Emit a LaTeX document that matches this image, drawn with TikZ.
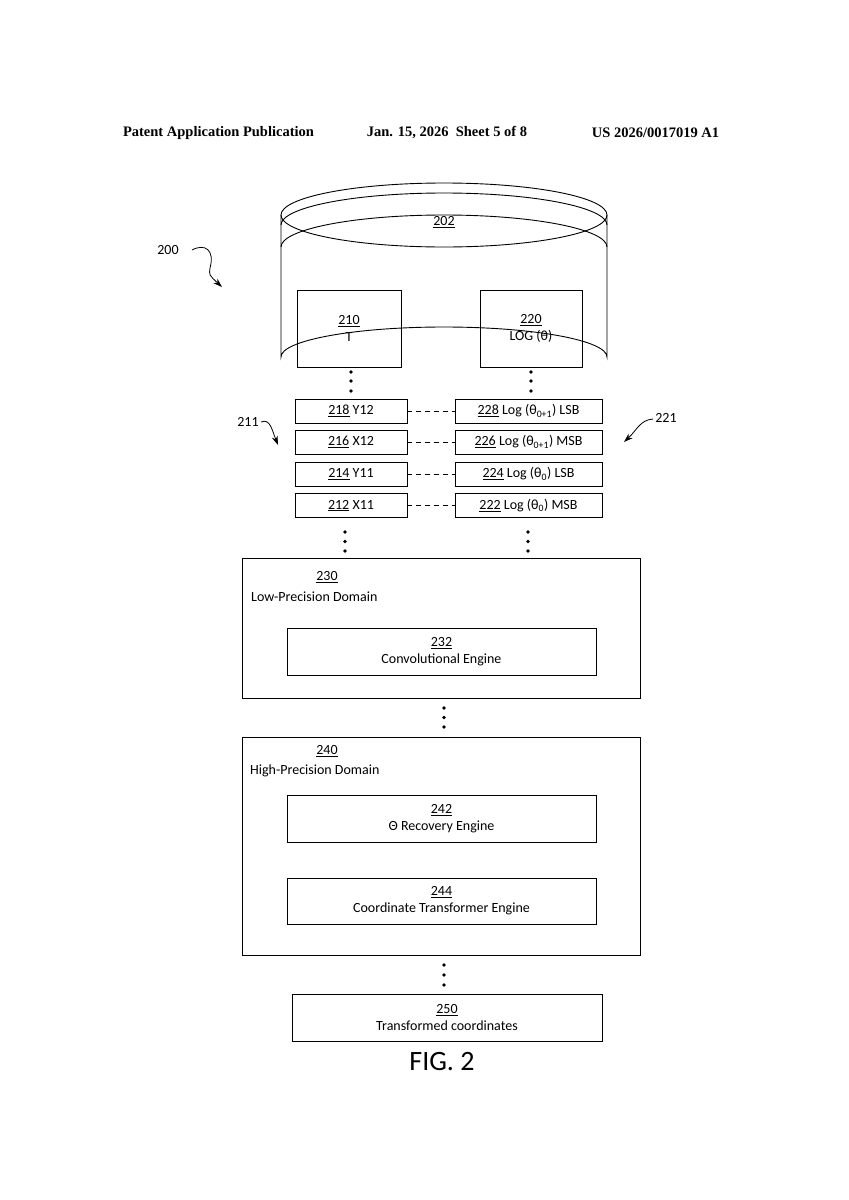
\documentclass[tikz,border=0pt]{standalone}
\usepackage{fontspec}
\setmainfont{Carlito}
\newfontfamily\hdr{Liberation Serif}
\usetikzlibrary{arrows.meta}
\begin{document}
\begin{tikzpicture}[x=1pt,y=-1pt,
  box/.style={draw,line width=0.9pt,rectangle,inner sep=0pt,align=center,font=\fontsize{14}{17}\selectfont},
  txt/.style={inner sep=0pt,font=\fontsize{14}{17}\selectfont,align=center},
  hd/.style={inner sep=0pt,font=\hdr\bfseries\fontsize{14.5}{17}\selectfont},
  dot/.style={circle,fill,inner sep=0pt,minimum size=3.6pt},
  lead/.style={line width=0.8pt,-{Stealth[length=9pt,width=6pt]}}]
\useasboundingbox (0,0) rectangle (849,1200);
% header
\node[hd] (h1) at (218.5,133) {Patent Application Publication};
\node[hd] (h2) at (447,133) {Jan. 15, 2026\ \ Sheet 5 of 8};
\node[hd] (h3) at (655.5,133) {US 2026/0017019 A1};
% cylinder
\draw[line width=0.9pt] (444,215) ellipse[x radius=163,y radius=32];
\draw[line width=0.9pt] (281,225) arc[start angle=180,end angle=360,x radius=163,y radius=32];
\draw[line width=0.9pt] (281,247) arc[start angle=180,end angle=360,x radius=163,y radius=32];
\draw[line width=0.9pt] (281,215) -- (281,357) arc[start angle=180,end angle=360,x radius=163,y radius=30] -- (607,215);
\node[txt] (n202) at (444,222) {\underline{202}};
\node[box,minimum width=104pt,minimum height=77pt] (b210) at (349,328.5) {\underline{210}\\T};
\node[box,minimum width=102pt,minimum height=77pt] (b220) at (531,328.5) {\underline{220}\\LOG (θ)};
% rows
\foreach \n/\y/\t in {218/411/Y12,216/442/X12,214/474/Y11,212/505.5/X11}{
  \node[box,minimum width=112pt,minimum height=24pt] (l\n) at (351,\y) {\underline{\n} \t};}
\node[box,minimum width=147pt,minimum height=24pt] (r228) at (528.5,411) {\underline{228} Log (θ\textsubscript{0+1}) LSB};
\node[box,minimum width=147pt,minimum height=24pt] (r226) at (528.5,442) {\underline{226} Log (θ\textsubscript{0+1}) MSB};
\node[box,minimum width=147pt,minimum height=24pt] (r224) at (528.5,474) {\underline{224} Log (θ\textsubscript{0}) LSB};
\node[box,minimum width=147pt,minimum height=24pt] (r222) at (528.5,505.5) {\underline{222} Log (θ\textsubscript{0}) MSB};
\foreach \a/\b in {218/228,216/226,214/224,212/222}
  \draw[dashed,line width=0.8pt,dash pattern=on 5pt off 4pt] (l\a.east) -- (r\b.west);
% dots
\foreach \x in {351,531} \foreach \y in {372,381,391} \node[dot] at (\x,\y) {};
\foreach \x in {345,528} \foreach \y in {532,541.5,551} \node[dot] at (\x,\y) {};
\foreach \y in {708,717.5,727,965,975,985} \node[dot] at (444,\y) {};
% domains
\node[box,minimum width=398pt,minimum height=140pt] (b230) at (441,628) {};
\node[txt] (t230) at (327,577) {\underline{230}};
\node[txt,anchor=west] (l230) at (251,597) {Low-Precision Domain};
\node[box,minimum width=309pt,minimum height=47pt] (b232) at (441.5,651.5) {\underline{232}\\Convolutional Engine};
\node[box,minimum width=398pt,minimum height=218pt] (b240) at (441,846) {};
\node[txt] (t240) at (327,751) {\underline{240}};
\node[txt,anchor=west] (l240) at (250,771) {High-Precision Domain};
\node[box,minimum width=309pt,minimum height=47pt] (b242) at (441.5,818.5) {\underline{242}\\Θ Recovery Engine};
\node[box,minimum width=309pt,minimum height=46pt] (b244) at (441.5,901) {\underline{244}\\Coordinate Transformer Engine};
\node[box,minimum width=310pt,minimum height=47pt] (b250) at (447,1017.5) {\underline{250}\\Transformed coordinates};
\node[txt,font=\fontsize{28}{32}\selectfont] (fig) at (442,1062) {FIG. 2};
% leaders
\node[txt] (n200) at (168,250) {200};
\coordinate (a200) at (222,287);
\draw[lead] (192,250) .. controls (205,243) and (215,250) .. (210,268) .. controls (209,275) .. (a200);
\node[txt] (n211) at (248,422) {211};
\coordinate (a211) at (278,445);
\draw[lead] (261,422) .. controls (270,418) and (272,430) .. (a211);
\node[txt] (n221) at (666,418) {221};
\coordinate (a221) at (624,442);
\draw[lead] (653,419) .. controls (640,420) and (637,430) .. (a221);
\end{tikzpicture}
\end{document}
